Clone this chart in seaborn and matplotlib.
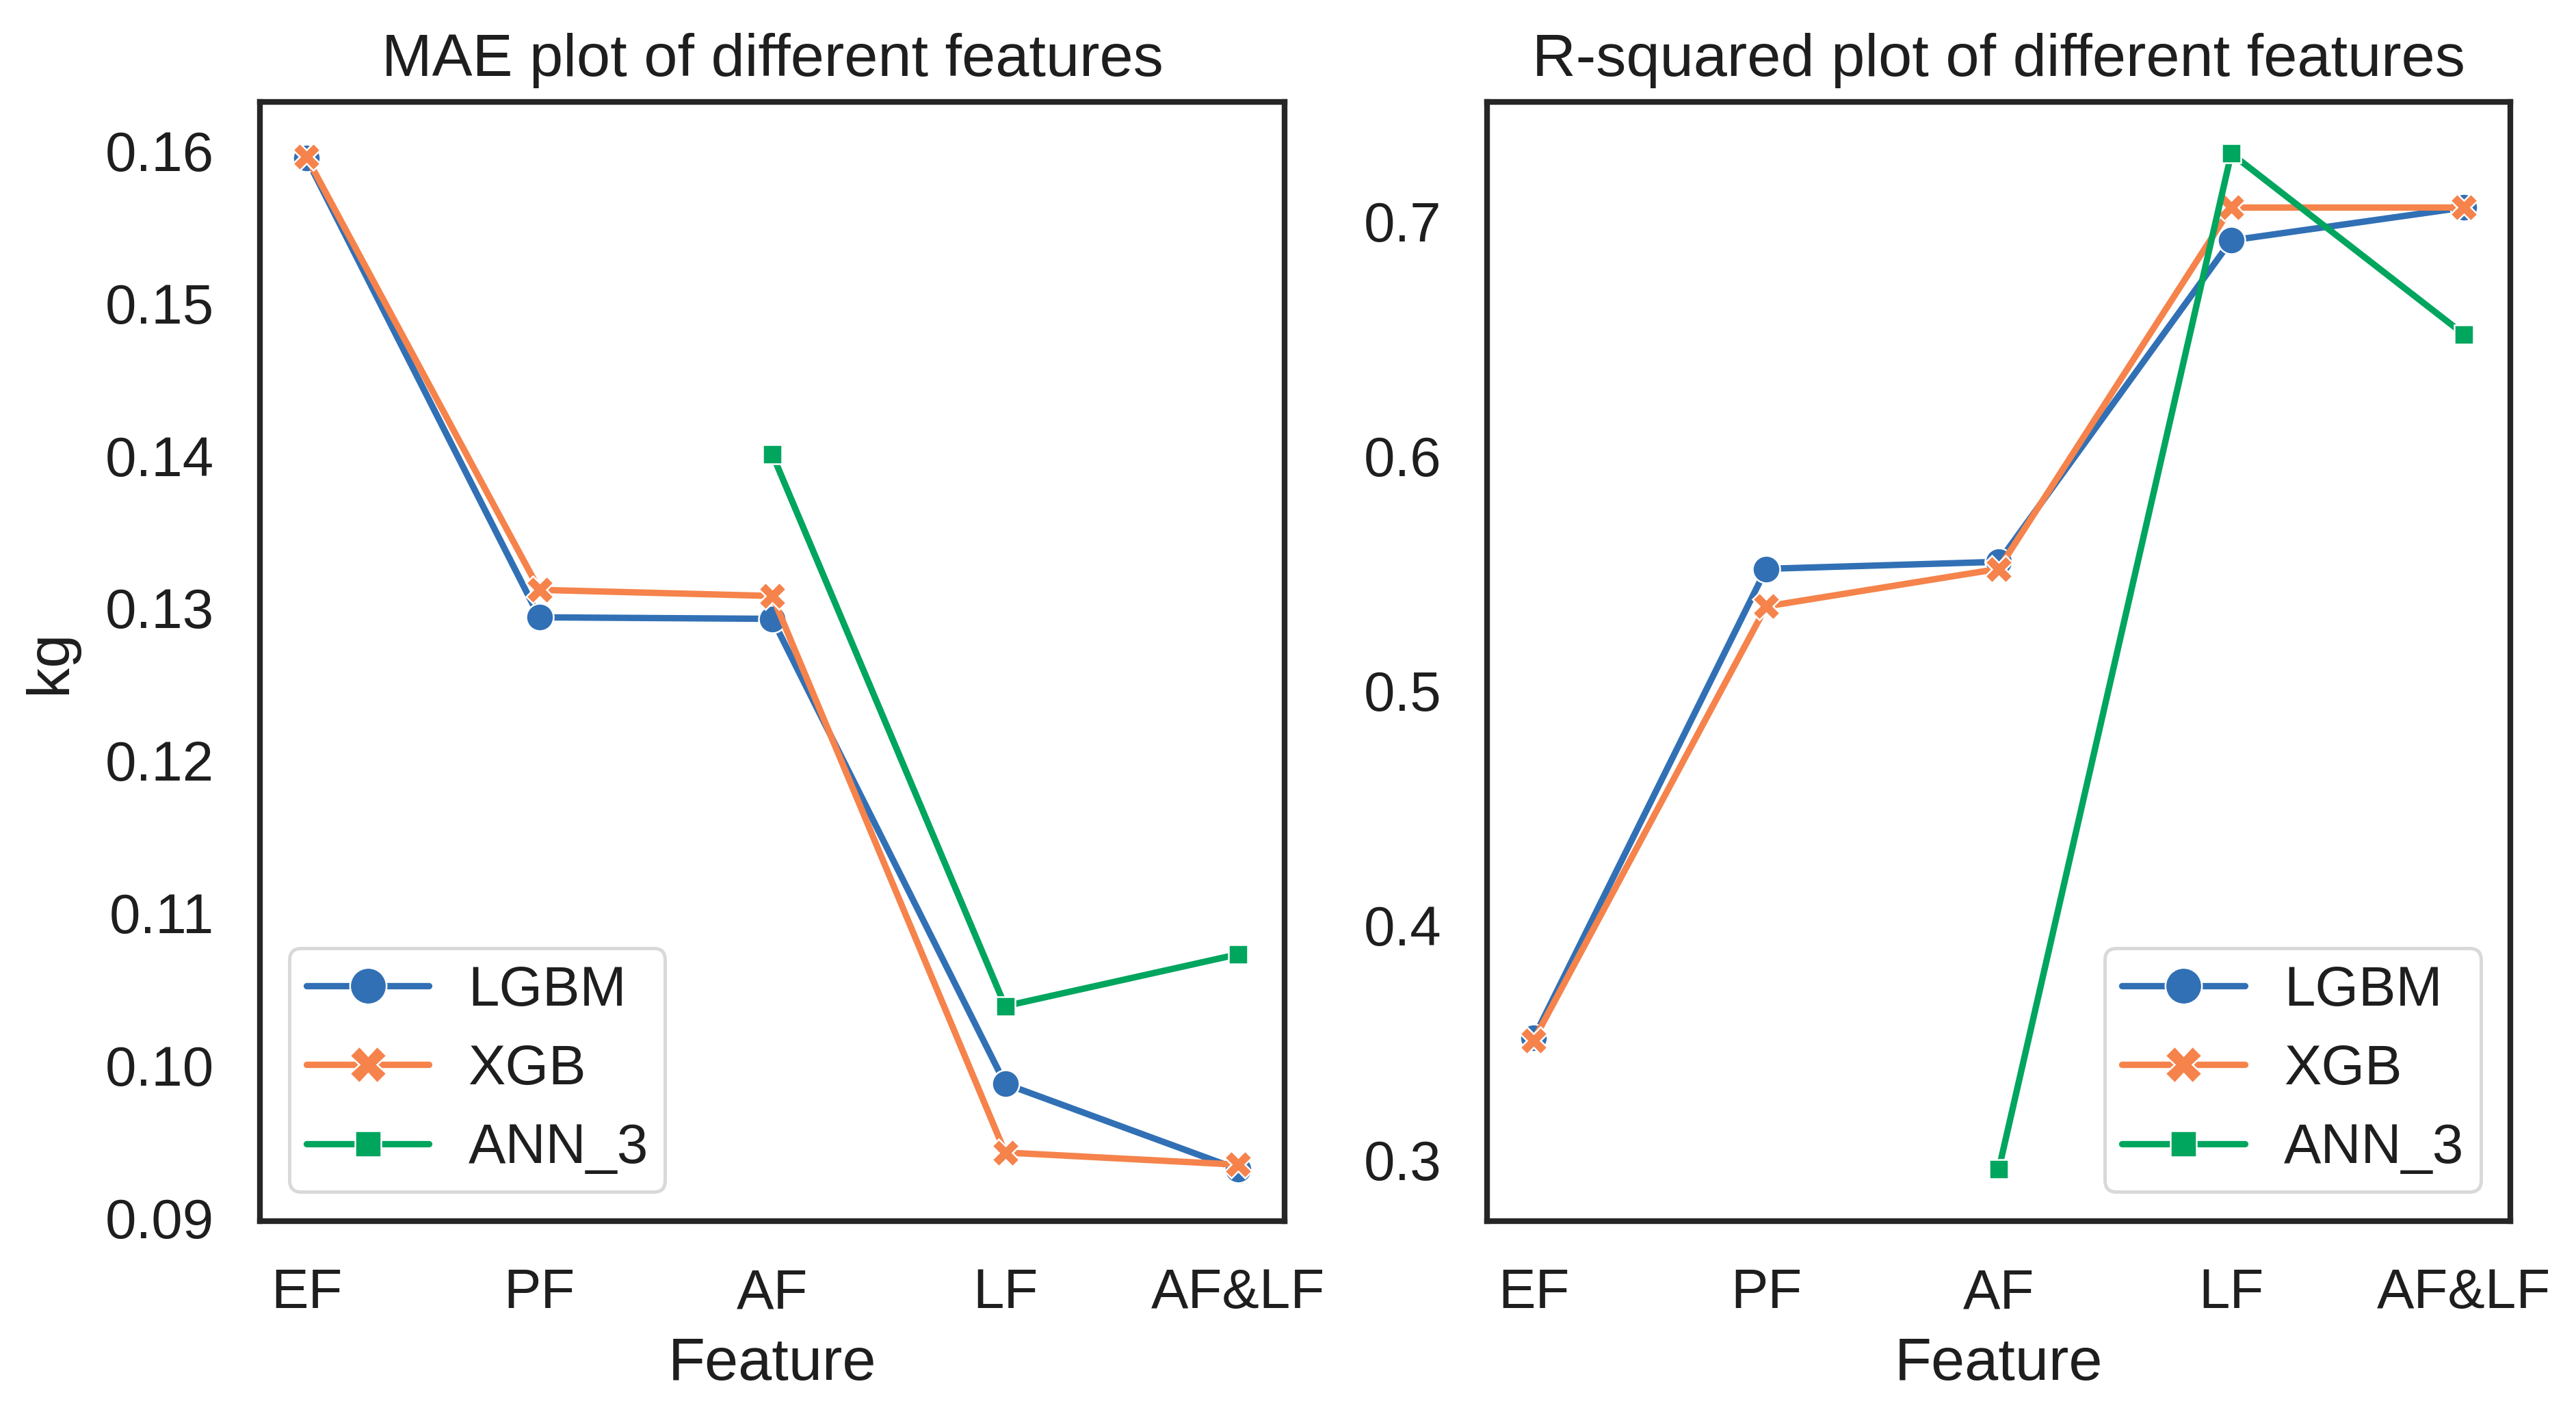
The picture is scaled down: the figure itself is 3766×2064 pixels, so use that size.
import numpy as np
import pandas as pd
import matplotlib
matplotlib.use("Agg")
import matplotlib.pyplot as plt
import seaborn as sns

features = ["EF", "PF", "AF", "LF", "AF&LF"]
models = ["LGBM", "XGB", "ANN_3"]

mae_lgbm = [0.1595, 0.1294, 0.1293, 0.0988, 0.0932]
mae_xgb = [0.1596, 0.1312, 0.1308, 0.0943, 0.0935]
mae_ann3 = [np.nan, np.nan, 0.1401, 0.1039, 0.1073]

r2_lgbm = [0.352, 0.552, 0.555, 0.692, 0.706]
r2_xgb = [0.351, 0.536, 0.552, 0.706, 0.706]
r2_ann3 = [np.nan, np.nan, 0.296, 0.729, 0.652]

palette = {"LGBM": "#3170B5", "XGB": "#F5834B", "ANN_3": "#00A55E"}


def long_frame(series):
    rows = []
    for name, vals in zip(models, series):
        for f, v in zip(features, vals):
            rows.append({"Feature": f, "Model": name, "value": v})
    return pd.DataFrame(rows).dropna()


df_mae = long_frame([mae_lgbm, mae_xgb, mae_ann3])
df_r2 = long_frame([r2_lgbm, r2_xgb, r2_ann3])

sns.set_theme(style="white")
plt.rcParams["font.family"] = ["Liberation Sans", "DejaVu Sans"]
ink = "#1e1e1e"
plt.rcParams["text.color"] = ink
plt.rcParams["axes.labelcolor"] = ink
plt.rcParams["xtick.color"] = ink
plt.rcParams["ytick.color"] = ink

fig = plt.figure(figsize=(3766 / 240, 2064 / 240), dpi=240)
ax1 = fig.add_axes([0.1009, 0.1352, 0.3978, 0.7926])
ax2 = fig.add_axes([0.5773, 0.1352, 0.3972, 0.7926])

for ax, df, title, ylab, ylim, loc in [
    (ax1, df_mae, "MAE plot of different features", "kg", (0.0898, 0.1632), "lower left"),
    (ax2, df_r2, "R-squared plot of different features", "", (0.274, 0.751), "lower right"),
]:
    sns.lineplot(data=df, x="Feature", y="value", hue="Model", style="Model",
                 hue_order=models, style_order=models, palette=palette,
                 markers=True, dashes=False, linewidth=2.8, markersize=12,
                 ax=ax)
    ax.set_xlim(-0.2, 4.2)
    ax.set_ylim(*ylim)
    ax.set_title(title, fontsize=26.5, pad=11.5)
    ax.set_xlabel("Feature", fontsize=26.5, labelpad=7.5)
    ax.set_ylabel(ylab, fontsize=26.5, labelpad=12)
    ax.tick_params(axis="both", labelsize=24.5, length=0)
    ax.tick_params(axis="y", pad=20)
    ax.tick_params(axis="x", pad=20.5)
    for s in ax.spines.values():
        s.set_linewidth(2.5)
        s.set_color("#262626")
    handles, labels = ax.get_legend_handles_labels()
    keep = [(h, l) for h, l in zip(handles, labels) if l in models]
    leg = ax.legend([h for h, _ in keep], [l for _, l in keep], loc=loc,
                    fontsize=24.5, handlelength=2.2, labelspacing=0.48,
                    borderpad=0.3, handletextpad=0.7, borderaxespad=0.53,
                    frameon=True)
    leg.get_frame().set_edgecolor("#d0d0d0")
    leg.get_frame().set_linewidth(1.5)
    for h in leg.legend_handles:
        h.set_markersize(16)
        h.set_linewidth(2.8)

fig.savefig("out.png", dpi=240)
